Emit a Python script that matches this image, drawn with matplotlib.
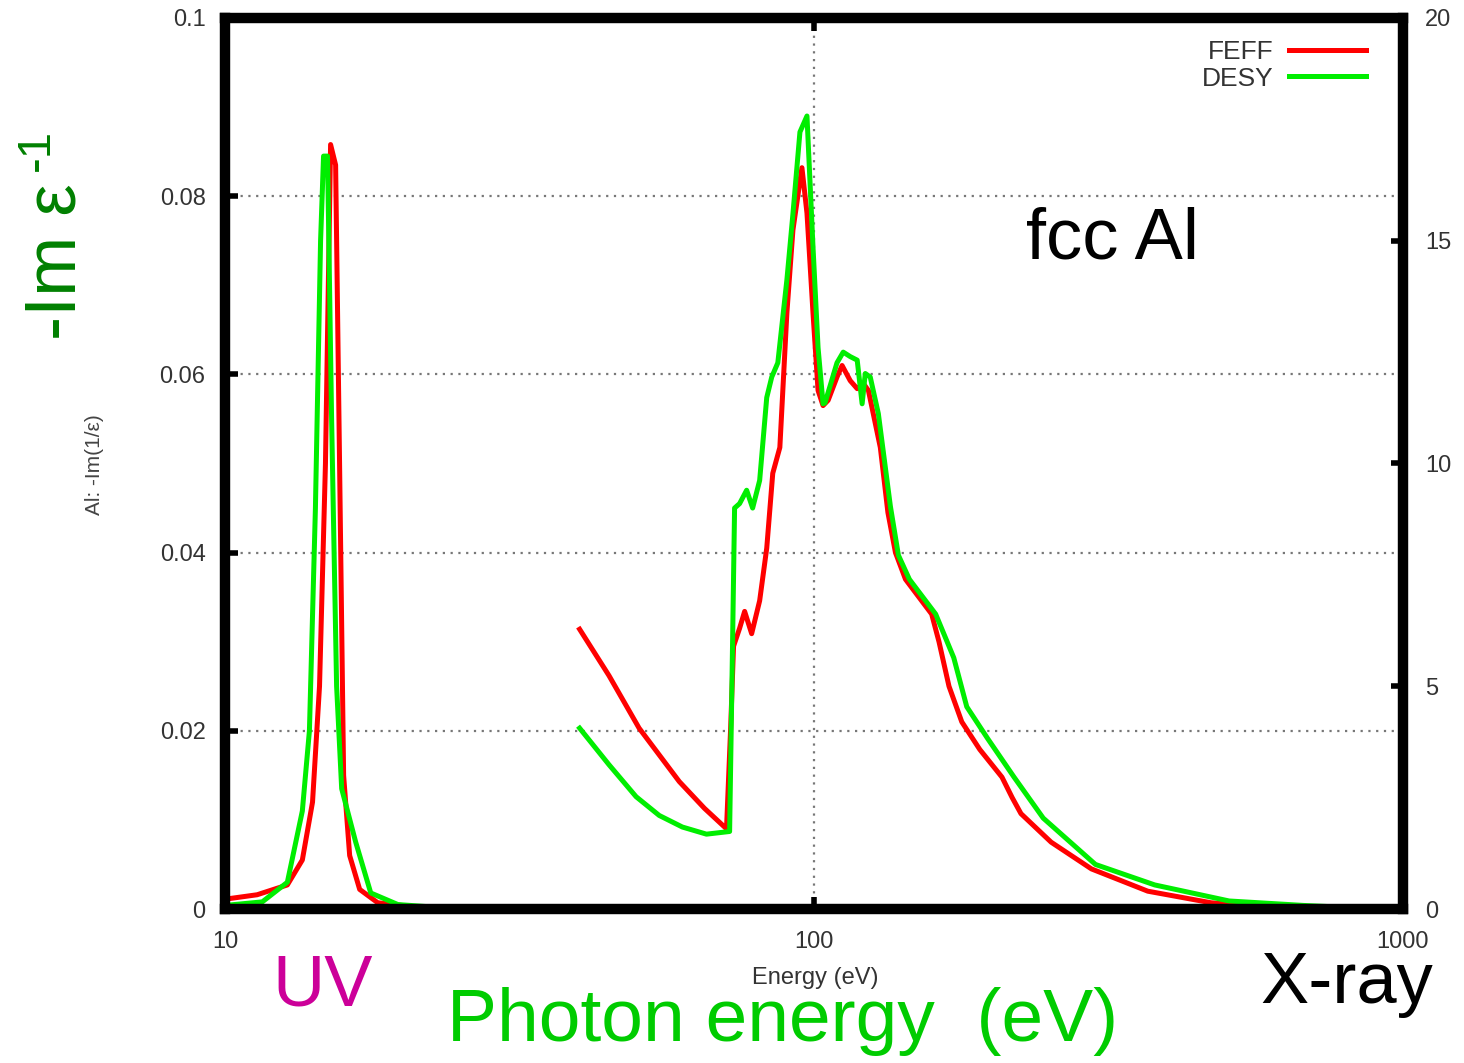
import matplotlib
matplotlib.use('Agg')
import matplotlib.pyplot as plt
from matplotlib.lines import Line2D

plt.rcParams['font.family'] = ['Liberation Sans', 'DejaVu Sans']

# UV plasmon region (eV, -Im 1/eps)
feff_uv_e = [10.0, 11.34, 12.76, 13.53, 14.08, 14.47, 14.81, 15.11, 15.41, 15.65, 15.90,
             16.28, 16.93, 18.17, 21.27, 26.9, 30.0]
feff_uv_v = [0.0011, 0.0016, 0.0027, 0.0055, 0.012, 0.025, 0.050, 0.0858, 0.0835, 0.050, 0.015,
             0.006, 0.0022, 0.0007, 0.0002, 0.0001, 0.0]
desy_uv_e = [10.0, 11.57, 12.76, 13.53, 13.91, 14.24, 14.53, 14.70, 14.93, 15.17, 15.47,
             15.78, 16.67, 17.68, 19.66, 23.92, 30.0]
desy_uv_v = [0.0004, 0.0008, 0.003, 0.011, 0.020, 0.045, 0.075, 0.0845, 0.0845, 0.055, 0.025,
             0.0135, 0.0075, 0.0018, 0.0005, 0.0001, 0.0]

# L-edge region
feff_x_e = [40.0, 44.86, 50.47, 59.06, 65.16, 71.03, 72.16, 73.02, 74.76, 76.25, 78.37, 80.86,
            83.13, 85.11, 87.50, 89.94, 92.09, 95.39, 97.29, 99.61, 101.6, 103.6, 105.7,
            109.4, 111.6, 115.2, 118.4, 121.2, 123.7, 129.6, 133.5, 137.5, 143.0, 158.4,
            163.0, 169.5, 178.2, 191.2, 208.5, 217.0, 224.6, 252.7, 295.8, 368.7, 472.2,
            586.2, 759.5]
feff_x_v = [0.0314, 0.0262, 0.0203, 0.0143, 0.0113, 0.0090, 0.0200, 0.0295, 0.0315, 0.0334,
            0.0309, 0.0346, 0.0405, 0.0489, 0.0518, 0.0669, 0.0762, 0.0832, 0.0781, 0.0669,
            0.0582, 0.0565, 0.0571, 0.0597, 0.0610, 0.0593, 0.0584, 0.0590, 0.0582, 0.0518,
            0.0445, 0.0400, 0.0370, 0.0331, 0.0300, 0.0250, 0.0210, 0.0179, 0.0148, 0.0125,
            0.0107, 0.0075, 0.0045, 0.0020, 0.0007, 0.0002, 0.0]
desy_x_e = [40.0, 44.86, 49.89, 54.6, 59.77, 65.68, 71.90, 72.74, 73.31, 74.76, 76.85, 78.67,
            80.86, 83.13, 84.77, 86.81, 89.94, 92.09, 94.65, 97.29, 99.61, 101.6, 103.6,
            104.4, 109.4, 112.1, 115.2, 118.4, 120.7, 122.2, 124.6, 128.6, 134.8, 139.1,
            145.2, 160.9, 172.7, 181.7, 197.3, 218.6, 245.0, 300.5, 378.9, 506.8, 677.8, 924.7]
desy_x_v = [0.0203, 0.0162, 0.0126, 0.0105, 0.0092, 0.0084, 0.0087, 0.0300, 0.0450, 0.0455,
            0.0470, 0.0450, 0.0481, 0.0574, 0.0597, 0.0613, 0.0706, 0.0780, 0.0872, 0.0890,
            0.0743, 0.0630, 0.0567, 0.0568, 0.0613, 0.0625, 0.0620, 0.0616, 0.0567, 0.0601,
            0.0597, 0.0556, 0.0452, 0.0397, 0.0370, 0.0331, 0.0282, 0.0227, 0.0191, 0.0148,
            0.0102, 0.0050, 0.0027, 0.0009, 0.0004, 0.0]

x_ticks = [10, 100, 1000]
y_ticks = [0, 0.02, 0.04, 0.06, 0.08, 0.1]
y_tick_labels = ['0', '0.02', '0.04', '0.06', '0.08', '0.1']
y2_ticks = [0, 5, 10, 15, 20]

W, H = 1464, 1063
fig = plt.figure(figsize=(W / 100, H / 100), dpi=100)
ax = fig.add_axes([225 / W, 1 - 909 / H, (1403 - 225) / W, (909 - 18) / H])

red = '#ff0000'
green = '#00ee00'
lw = 3.6
ax.plot(feff_uv_e, feff_uv_v, color=red, lw=lw, solid_joinstyle='round')
ax.plot(feff_x_e, feff_x_v, color=red, lw=lw, solid_joinstyle='round')
ax.plot(desy_uv_e, desy_uv_v, color=green, lw=lw, solid_joinstyle='round')
ax.plot(desy_x_e, desy_x_v, color=green, lw=lw, solid_joinstyle='round')

ax.set_xscale('log')
ax.set_xlim(10, 1000)
ax.set_ylim(0, 0.1)
ax.set_xticks(x_ticks)
ax.set_xticklabels([str(t) for t in x_ticks])
ax.minorticks_off()
ax.set_yticks(y_ticks)
ax.set_yticklabels(y_tick_labels)
ax.grid(True, which='major', color='#777777', linestyle=(0, (1, 2.5)), linewidth=1.6)
ax.set_axisbelow(True)

for sp in ax.spines.values():
    sp.set_linewidth(7.5)
    sp.set_color('black')
ax.tick_params(axis='both', which='major', direction='in', length=9, width=4,
               labelsize=17, labelcolor='#333333', top=True, pad=14)
ax.tick_params(axis='x', pad=16)

ax2 = ax.twinx()
ax2.set_ylim(0, 20)
ax2.set_yticks(y2_ticks)
ax2.tick_params(axis='y', direction='in', length=9, width=4, labelsize=17,
                labelcolor='#333333', pad=16)
for sp in ax2.spines.values():
    sp.set_visible(False)

handles = [Line2D([], [], color=red, lw=3.6), Line2D([], [], color=green, lw=3.6)]
leg = ax.legend(handles, ['FEFF', 'DESY'], loc='upper right', markerfirst=False, frameon=False,
                fontsize=19, handlelength=2.9, handletextpad=0.6, labelspacing=0.1,
                borderaxespad=0.3, bbox_to_anchor=(0.984, 0.996))
for t in leg.get_texts():
    t.set_color('#333333')


def px(x, y):
    return x / W, 1 - y / H


fig.text(*px(815, 978), 'Energy (eV)', fontsize=17, color='#333333', ha='center', va='center')
fig.text(*px(95, 465), 'Al: -Im(1/ε)', fontsize=15, color='#444444', ha='center', va='center',
         rotation=90)
fig.text(*px(57, 262), '-Im ε', fontsize=52, color='#008000', ha='center', va='center',
         rotation=90)
fig.text(*px(37, 150), '-1', fontsize=34, color='#008000', ha='center', va='center',
         rotation=90)
fig.text(*px(1113, 240), 'fcc Al', fontsize=52, color='black', ha='center', va='center')
fig.text(*px(323, 987), 'UV', fontsize=52, color='#cc0099', ha='center', va='center')
fig.text(*px(1347, 985), 'X-ray', fontsize=52, color='black', ha='center', va='center')
fig.text(*px(783, 1022), 'Photon energy  (eV)', fontsize=54, color='#00cc00', ha='center',
         va='center')

fig.savefig('out.png', dpi=100)
